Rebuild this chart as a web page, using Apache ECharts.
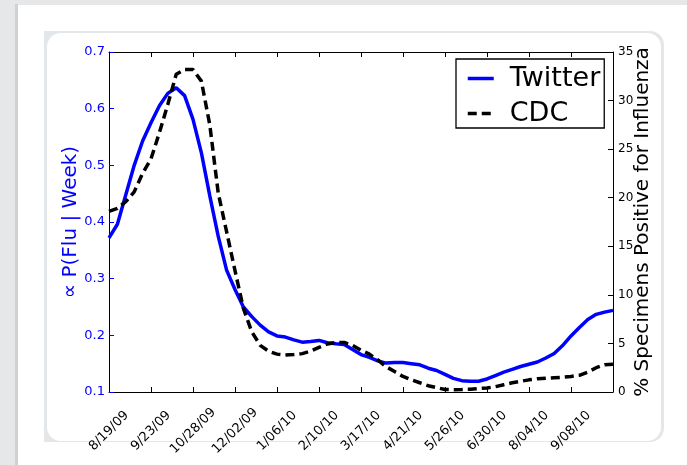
<!DOCTYPE html>
<html><head><meta charset="utf-8">
<script src="https://cdn.jsdelivr.net/npm/echarts@6/dist/echarts.min.js"></script>
<style>html,body{margin:0;padding:0;background:#e5e7e9;}#c{width:687px;height:465px;}</style>
</head><body><div id="c"></div>
<script>
const weeks = ["8/19/09","8/26/09","9/02/09","9/09/09","9/16/09","9/23/09","9/30/09","10/07/09","10/14/09","10/21/09",
"10/28/09","11/04/09","11/11/09","11/18/09","11/25/09","12/02/09","12/09/09","12/16/09","12/23/09","12/30/09",
"1/06/10","1/13/10","1/20/10","1/27/10","2/03/10","2/10/10","2/17/10","2/24/10","3/03/10","3/10/10",
"3/17/10","3/24/10","3/31/10","4/07/10","4/14/10","4/21/10","4/28/10","5/05/10","5/12/10","5/19/10",
"5/26/10","6/02/10","6/09/10","6/16/10","6/23/10","6/30/10","7/07/10","7/14/10","7/21/10","7/28/10",
"8/04/10","8/11/10","8/18/10","8/25/10","9/01/10","9/08/10","9/15/10","9/22/10","9/29/10","10/06/10","10/13/10"];
const tickLabels = ["8/19/09","9/23/09","10/28/09","12/02/09","1/06/10","2/10/10","3/17/10","4/21/10","5/26/10","6/30/10","8/04/10","9/08/10"];
const twitter = [0.372,0.396,0.448,0.500,0.543,0.575,0.605,0.627,0.637,0.623,
0.581,0.522,0.446,0.375,0.315,0.281,0.250,0.233,0.218,0.206,
0.199,0.197,0.192,0.188,0.189,0.191,0.187,0.185,0.184,0.175,
0.166,0.161,0.155,0.151,0.152,0.152,0.150,0.148,0.142,0.138,
0.131,0.124,0.120,0.119,0.119,0.123,0.129,0.135,0.140,0.145,
0.149,0.153,0.160,0.168,0.182,0.199,0.214,0.228,0.237,0.241,0.244];
const cdc = [18.6,18.9,19.6,20.6,22.5,24.0,26.7,29.6,32.7,33.2,
33.2,32.0,27.5,20.5,16.5,12.5,8.6,6.2,4.8,4.2,
3.9,3.8,3.85,3.95,4.2,4.6,4.95,5.1,5.1,4.8,
4.3,3.9,3.3,2.6,2.1,1.6,1.25,0.95,0.65,0.45,
0.25,0.24,0.25,0.28,0.35,0.42,0.55,0.75,0.95,1.1,
1.25,1.37,1.42,1.47,1.52,1.6,1.72,2.05,2.5,2.8,2.85];

const FONT = 'DejaVu Sans';
const chart = echarts.init(document.getElementById('c'));
const showLabel = (i) => tickLabels.indexOf(weeks[i]) >= 0;
const showTick = (i) => i % 5 === 0;

chart.setOption({
  animation: false,
  backgroundColor: '#e5e7e9',
  graphic: [
    {type:'rect', z:-20, shape:{x:15,y:4,width:3,height:465}, style:{fill:'#cfd1d3'}},
    {type:'rect', z:-20, shape:{x:18,y:5,width:680,height:465}, style:{fill:'#ffffff'}},
    {type:'rect', z:-19, shape:{x:44,y:31,width:620,height:411, r:[0,14,14,0]}, style:{fill:'#e4e7ea'}},
    {type:'rect', z:-18, shape:{x:47,y:33,width:614,height:408, r:14}, style:{fill:'#ffffff'}}
  ],
  grid: {left:109, right:74, top:52, bottom:73},
  legend: {
    orient:'vertical', left:456, top:59,
    padding:[6,4,1,10], itemGap:8, itemWidth:26, itemHeight:14,
    backgroundColor:'#ffffff', borderColor:'#000', borderWidth:1.3, borderRadius:0,
    itemStyle:{opacity:0},
    lineStyle:{width:3.5},
    textStyle:{fontFamily:FONT, fontSize:27, color:'#000', padding:[0,0,0,11]},
    data:['Twitter','CDC']
  },
  xAxis: [
    {type:'category', data:weeks, boundaryGap:false, position:'bottom',
     axisLine:{lineStyle:{color:'#000', width:1}},
     axisTick:{inside:true, length:5, interval:showTick, lineStyle:{color:'#000'}},
     axisLabel:{interval:showLabel, rotate:45, align:'center', verticalAlign:'middle', margin:39,
       fontFamily:FONT, fontSize:13, color:'#000'},
     splitLine:{show:false}},
    {type:'category', data:weeks, boundaryGap:false, position:'top',
     axisLine:{lineStyle:{color:'#000', width:1}},
     axisTick:{inside:true, length:5, interval:showTick, lineStyle:{color:'#000'}},
     axisLabel:{show:false}, splitLine:{show:false}}
  ],
  yAxis: [
    {type:'value', position:'left', min:0.1, max:0.7, interval:0.1,
     name:'\u221d P(Flu | Week)', nameLocation:'middle', nameGap:28, nameMoveOverlap:false,
     nameTextStyle:{fontFamily:FONT, fontSize:20, color:'#0000ff'},
     axisLine:{show:true, lineStyle:{color:'#000', width:1}},
     axisTick:{show:true, inside:true, length:5, lineStyle:{color:'#0000ff'}},
     axisLabel:{formatter:(v)=>v.toFixed(1), margin:4, fontFamily:FONT, fontSize:13, color:'#0000ff'},
     splitLine:{show:false}},
    {type:'value', position:'right', min:0, max:35, interval:5,
     name:'% Specimens Positive for Influenza', nameLocation:'middle', nameGap:20, nameMoveOverlap:false,
     nameTextStyle:{fontFamily:FONT, fontSize:20, color:'#000'},
     axisLine:{show:true, lineStyle:{color:'#000', width:1}},
     axisTick:{show:true, inside:true, length:5, lineStyle:{color:'#000'}},
     axisLabel:{margin:5, fontFamily:FONT, fontSize:12, color:'#000'},
     splitLine:{show:false}}
  ],
  series: [
    {name:'Twitter', type:'line', xAxisIndex:0, yAxisIndex:0, data:twitter,
     symbol:'none', smooth:false, lineStyle:{color:'#0000ff', width:3.5}, itemStyle:{color:'#0000ff'}, z:3},
    {name:'CDC', type:'line', xAxisIndex:0, yAxisIndex:1, data:cdc,
     symbol:'none', smooth:false, lineStyle:{color:'#000', width:3.5, type:[9,5]}, itemStyle:{color:'#000'}, z:4}
  ]
});
</script></body></html>
